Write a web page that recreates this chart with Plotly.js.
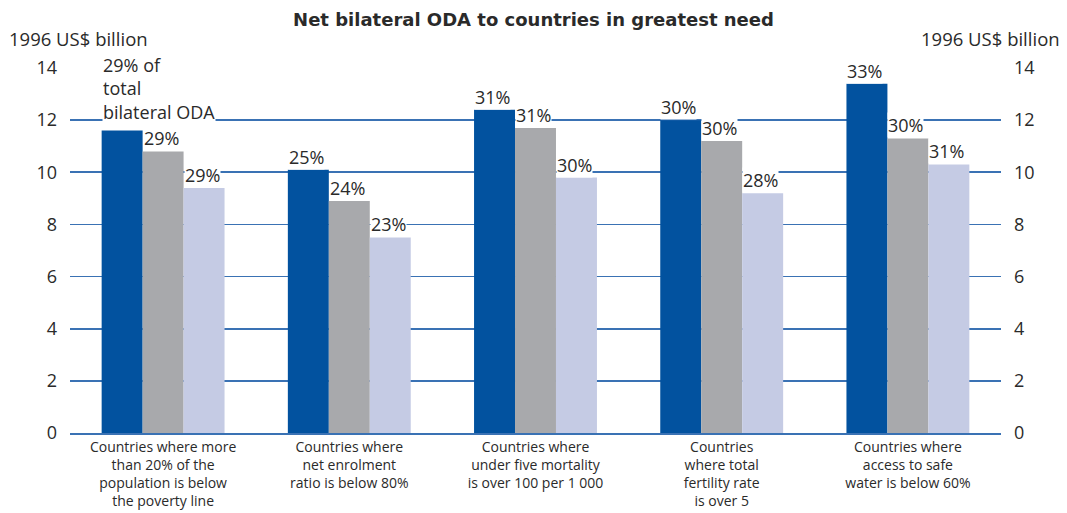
<!DOCTYPE html>
<html>
<head>
<meta charset="utf-8">
<script src="https://cdn.plot.ly/plotly-3.0.1.min.js"></script>
<style>
html,body{margin:0;padding:0;background:#fff;}
#chart{width:1067px;height:513px;}
</style>
</head>
<body>
<div id="chart"></div>
<script>
// ---- Data ----
var categories = [
  "Countries where more<br>than 20% of the<br>population is below<br>the poverty line",
  "Countries where<br>net enrolment<br>ratio is below 80%",
  "Countries where<br>under five mortality<br>is over 100 per 1 000",
  "Countries<br>where total<br>fertility rate<br>is over 5",
  "Countries where<br>access to safe<br>water is below 60%"
];
var seriesA = [11.6, 10.1, 12.4, 12.0, 13.4];
var seriesB = [10.8, 8.9, 11.7, 11.2, 11.3];
var seriesC = [9.4, 7.5, 9.8, 9.2, 10.3];
var labelsA = ["29% of<br>total<br>bilateral ODA", "25%", "31%", "30%", "33%"];
var labelsB = ["29%", "24%", "31%", "30%", "30%"];
var labelsC = ["29%", "23%", "30%", "28%", "31%"];
var yTicks = [0, 2, 4, 6, 8, 10, 12, 14];

// ---- Styles ----
var colors = ["#02529F", "#A8A9AC", "#C5CBE4"];
var gridColor = "#3A72B4";
var textColor = "#2A2A2A";
var fontFam = "'Open Sans', 'DejaVu Sans', sans-serif";

var allSeries = [seriesA, seriesB, seriesC];
var allLabels = [labelsA, labelsB, labelsC];

var traces = allSeries.map(function (vals, k) {
  return {
    type: "bar",
    x: categories,
    y: vals,
    marker: {color: colors[k], line: {width: 0}},
    hoverinfo: "y",
    showlegend: false
  };
});
// invisible trace to drive right axis
traces.push({type: "scatter", x: [categories[0]], y: [0], yaxis: "y2", mode: "markers",
  marker: {opacity: 0}, hoverinfo: "skip", showlegend: false});

var groupWidth = 0.66;
var barW = groupWidth / 3;
var annotations = [];
allSeries.forEach(function (vals, k) {
  vals.forEach(function (v, i) {
    annotations.push({
      x: i - groupWidth / 2 + barW * k,
      y: v,
      xref: "x", yref: "y",
      text: allLabels[k][i],
      showarrow: false,
      xanchor: "left", yanchor: "bottom", align: "left",
      bgcolor: "#ffffff",
      borderpad: 0,
      yshift: (k === 0 && i === 0) ? 6 : 0,
      font: {family: fontFam, size: 18, color: textColor}
    });
  });
});
annotations.push({
  text: "1996 US$ billion", xref: "paper", yref: "paper",
  x: -0.068, y: 1.0, xanchor: "left", yanchor: "bottom", yshift: 15,
  showarrow: false, font: {family: fontFam, size: 18.5, color: textColor}
});
annotations.push({
  text: "1996 US$ billion", xref: "paper", yref: "paper",
  x: 1.066, y: 1.0, xanchor: "right", yanchor: "bottom", yshift: 15,
  showarrow: false, font: {family: fontFam, size: 18.5, color: textColor}
});

var layout = {
  width: 1067, height: 513,
  margin: {l: 70, r: 66, t: 68, b: 80, pad: 0},
  paper_bgcolor: "#ffffff", plot_bgcolor: "#ffffff",
  title: {
    text: "<b>Net bilateral ODA to countries in greatest need</b>",
    x: 0.5, xanchor: "center", y: 0.962, yanchor: "middle",
    font: {family: "'DejaVu Sans', sans-serif", size: 18, color: textColor}
  },
  barmode: "group",
  bargap: 0.34,
  bargroupgap: 0,
  xaxis: {
    type: "category",
    showgrid: false,
    showline: true, linecolor: gridColor, linewidth: 2,
    ticks: "",
    tickfont: {family: fontFam, size: 14, color: textColor},
    fixedrange: true
  },
  yaxis: {
    range: [0, 14],
    tickvals: yTicks,
    ticktext: yTicks.map(String),
    showgrid: true, gridcolor: gridColor, gridwidth: 1.8,
    zeroline: false, showline: false,
    ticks: "", ticklabelstandoff: 12,
    tickfont: {family: fontFam, size: 18, color: textColor},
    fixedrange: true
  },
  yaxis2: {
    range: [0, 14],
    overlaying: "y", side: "right",
    tickvals: yTicks,
    ticktext: yTicks.map(String),
    showgrid: false, zeroline: false, showline: false,
    ticks: "", ticklabelstandoff: 12,
    tickfont: {family: fontFam, size: 18, color: textColor},
    fixedrange: true
  },
  annotations: annotations
};

Plotly.newPlot("chart", traces, layout, {displayModeBar: false, staticPlot: true});
</script>
</body>
</html>
